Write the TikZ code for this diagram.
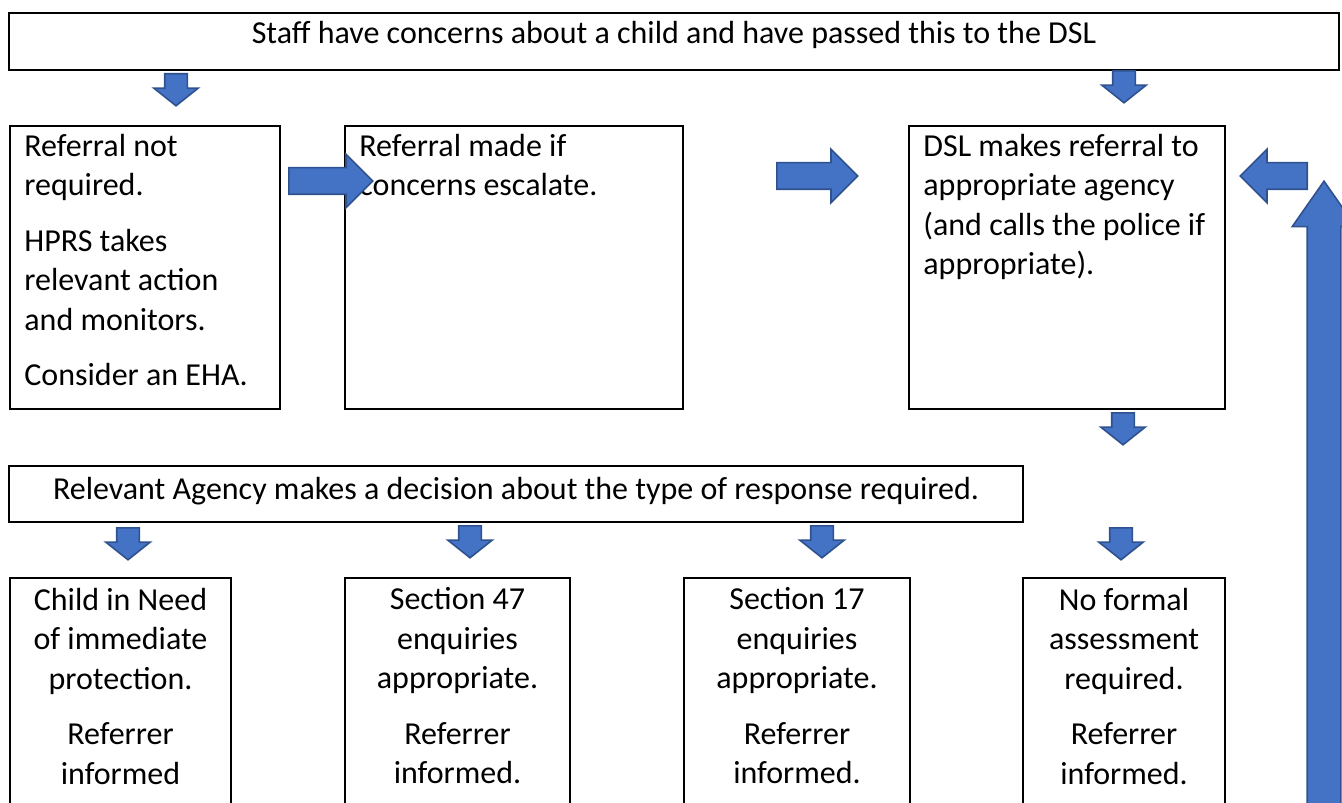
\documentclass[tikz,border=0pt]{standalone}
\usepackage{fontspec}
\setmainfont{Carlito}
\usetikzlibrary{shapes.arrows, positioning}

\definecolor{arrowfill}{HTML}{4472C4}
\definecolor{arrowedge}{HTML}{2F528F}

\begin{document}
\begin{tikzpicture}[x=0.5pt, y=-0.5pt,
    box/.style={draw, line width=1pt, inner sep=0pt, anchor=north west},
    txtone/.style={font=\fontsize{16}{19.75}\selectfont, inner sep=0pt, anchor=base},
    txtl/.style={font=\fontsize{16}{19.75}\selectfont, align=left, inner sep=0pt, anchor=north west,
        execute at begin node=\strut},
    txtc/.style={font=\fontsize{16}{19.75}\selectfont, align=center, inner sep=0pt, anchor=north,
        execute at begin node=\strut},
    blockarrow/.style={single arrow, draw=arrowedge, fill=arrowfill, line width=0.8pt, anchor=tail},
    downarrow/.style={blockarrow, shape border rotate=270, inner sep=5.25pt, minimum height=16pt,
        single arrow head extend=5.5pt, single arrow tip angle=103},
    rightarrow/.style={blockarrow, inner sep=6.25pt, minimum height=41pt,
        single arrow head extend=6.75pt, single arrow tip angle=90}
]
\clip (0,0) rectangle (1342,802);

% boxes
\node[box, minimum width=665pt, minimum height=28.5pt] (staff) at (8,12) {};
\node[box, minimum width=135pt, minimum height=141.5pt] (noref) at (9,125) {};
\node[box, minimum width=169pt, minimum height=141.5pt] (escal) at (344,125) {};
\node[box, minimum width=158pt, minimum height=141.5pt] (dsl) at (908,125) {};
\node[box, minimum width=507pt, minimum height=28pt] (agency) at (8,465) {};
\node[box, minimum width=110.5pt, minimum height=130pt] (cin) at (9,577) {};
\node[box, minimum width=112.5pt, minimum height=130pt] (sec47) at (344,577) {};
\node[box, minimum width=113pt, minimum height=130pt] (sec17) at (683,577) {};
\node[box, minimum width=101pt, minimum height=130pt] (nofa) at (1022,577) {};

% texts
\node[txtone, yshift=-16pt] (staffl) at (staff.north) {Staff have concerns about a child and have passed this to the DSL};
\node[txtl, xshift=7.5pt, yshift=-4.4pt] (norefl) at (noref.north west)
    {Referral not\\ required.\\[8pt] HPRS takes\\ relevant action\\ and monitors.\\[8pt] Consider an EHA.};
\node[txtl, xshift=7.5pt, yshift=-4.4pt] (escall) at (escal.north west)
    {Referral made if\\ concerns escalate.};
\node[txtl, xshift=7.5pt, yshift=-4.4pt] (dsll) at (dsl.north west)
    {DSL makes referral to\\ appropriate agency\\ (and calls the police if\\ appropriate).};
\node[txtone, yshift=-17pt] (agencyl) at (agency.north) {Relevant Agency makes a decision about the type of response required.};
\node[txtc, yshift=-5.2pt] (cinl) at (cin.north)
    {Child in Need\\ of immediate\\ protection.\\[8pt] Referrer\\ informed};
\node[txtc, yshift=-5.2pt] (sec47l) at (sec47.north)
    {Section 47\\ enquiries\\ appropriate.\\[8pt] Referrer\\ informed.};
\node[txtc, yshift=-5.2pt] (sec17l) at (sec17.north)
    {Section 17\\ enquiries\\ appropriate.\\[8pt] Referrer\\ informed.};
\node[txtc, yshift=-5.2pt] (nofal) at (nofa.north)
    {No formal\\ assessment\\ required.\\[8pt] Referrer\\ informed.};

% block arrows (placed by their tails)
\node[downarrow] (dnleft) at (176,73) {};
\node[downarrow] (dnright) at (1124,70) {};
\node[downarrow] (dndsl) at (1123,412) {};
\node[downarrow] (dncin) at (128,527) {};
\node[downarrow] (dnsec47) at (470,525) {};
\node[downarrow] (dnsec17) at (822,525) {};
\node[downarrow] (dnnofa) at (1121,527) {};
\node[rightarrow, minimum height=42pt] (rtescal) at (288,181) {};
\node[rightarrow, minimum height=40.5pt] (rtdsl) at (776,176) {};
\node[rightarrow, shape border rotate=180, minimum height=33.5pt] (ltdsl) at (1308,176) {};
\node[blockarrow, shape border rotate=90, inner sep=8pt, minimum height=330pt,
    single arrow head extend=7.5pt, single arrow tip angle=70] (upback) at (1324,842) {};
\end{tikzpicture}
\end{document}
